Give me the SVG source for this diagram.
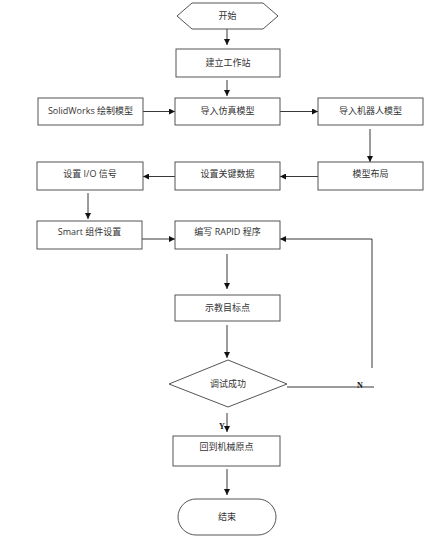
<svg xmlns="http://www.w3.org/2000/svg" width="426" height="560" viewBox="0 0 426 560">
<style>
.box{fill:#fff;stroke:#555;stroke-width:1}
.t{font-family:"Open Sans","Noto Sans CJK SC",sans-serif;font-size:9px;fill:#333;text-anchor:middle}
.c{fill:none;stroke:#222;stroke-width:0.9}
.yn{font-family:"Liberation Serif",serif;font-size:8px;font-weight:bold;fill:#111}
</style>
<defs>
<marker id="ah" viewBox="0 0 6 6" refX="6" refY="3" markerWidth="6" markerHeight="6" markerUnits="userSpaceOnUse" orient="auto">
<path d="M0,0 L6,3 L0,6 Z" fill="#111"/>
</marker>
</defs>
<rect width="426" height="560" fill="#fff"/>
<g id="connectors">
<path class="c" d="M227,29 V45" marker-end="url(#ah)"/>
<path class="c" d="M227,80 V96" marker-end="url(#ah)"/>
<path class="c" d="M143,111.5 H175" marker-end="url(#ah)"/>
<path class="c" d="M280,111.5 H318" marker-end="url(#ah)"/>
<path class="c" d="M370,129 V162" marker-end="url(#ah)"/>
<path class="c" d="M318,176.5 H280" marker-end="url(#ah)"/>
<path class="c" d="M175,176.5 H143" marker-end="url(#ah)"/>
<path class="c" d="M88,193 V219" marker-end="url(#ah)"/>
<path class="c" d="M142,239 H175" marker-end="url(#ah)"/>
<path class="c" d="M372,368 V239 H280" marker-end="url(#ah)"/>
<path class="c" d="M287,387 H374"/>
<path class="c" d="M227,254 V289" marker-end="url(#ah)"/>
<path class="c" d="M227,325 V358" marker-end="url(#ah)"/>
<path class="c" d="M227,413 V432" marker-end="url(#ah)"/>
<path class="c" d="M227,469 V495" marker-end="url(#ah)"/>
<text class="yn" x="219" y="429">Y</text>
<text class="yn" x="357" y="388">N</text>
</g>
<g id="start">
<polygon class="box" points="177,16 192,3 263,3 278,16 263,29 192,29"/>
<text class="t" x="227.5" y="19">开始</text>
</g>
<g id="n1">
<rect class="box" x="176" y="49" width="104" height="28"/>
<text class="t" x="228" y="66">建立工作站</text>
</g>
<g id="n2">
<rect class="box" x="38" y="98" width="105" height="27"/>
<text class="t" x="90.5" y="114">SolidWorks 绘制模型</text>
</g>
<g id="n3">
<rect class="box" x="175" y="98" width="105" height="27"/>
<text class="t" x="227.5" y="114">导入仿真模型</text>
</g>
<g id="n4">
<rect class="box" x="318" y="98" width="105" height="27"/>
<text class="t" x="370.5" y="114">导入机器人模型</text>
</g>
<g id="n5">
<rect class="box" x="37" y="162" width="106" height="28"/>
<text class="t" x="90" y="177">设置 I/O 信号</text>
</g>
<g id="n6">
<rect class="box" x="175" y="162" width="105" height="28"/>
<text class="t" x="227.5" y="177">设置关键数据</text>
</g>
<g id="n7">
<rect class="box" x="318" y="162" width="105" height="28"/>
<text class="t" x="370.5" y="177">模型布局</text>
</g>
<g id="n8">
<rect class="box" x="37" y="221" width="105" height="28"/>
<text class="t" x="89.5" y="235">Smart 组件设置</text>
</g>
<g id="n9">
<rect class="box" x="175" y="221" width="105" height="28"/>
<text class="t" x="227.5" y="235">编写 RAPID 程序</text>
</g>
<g id="n10">
<rect class="box" x="175" y="295" width="105" height="26"/>
<text class="t" x="227.5" y="311">示教目标点</text>
</g>
<g id="n11">
<polygon class="box" points="228,360 287,384 228,407 169,384"/>
<text class="t" x="228" y="387">调试成功</text>
</g>
<g id="n12">
<rect class="box" x="173" y="436" width="107" height="30"/>
<text class="t" x="226.5" y="450">回到机械原点</text>
</g>
<g id="end">
<rect class="box" x="178" y="499" width="98" height="36" rx="18" ry="18"/>
<text class="t" x="227" y="520">结束</text>
</g>
</svg>
